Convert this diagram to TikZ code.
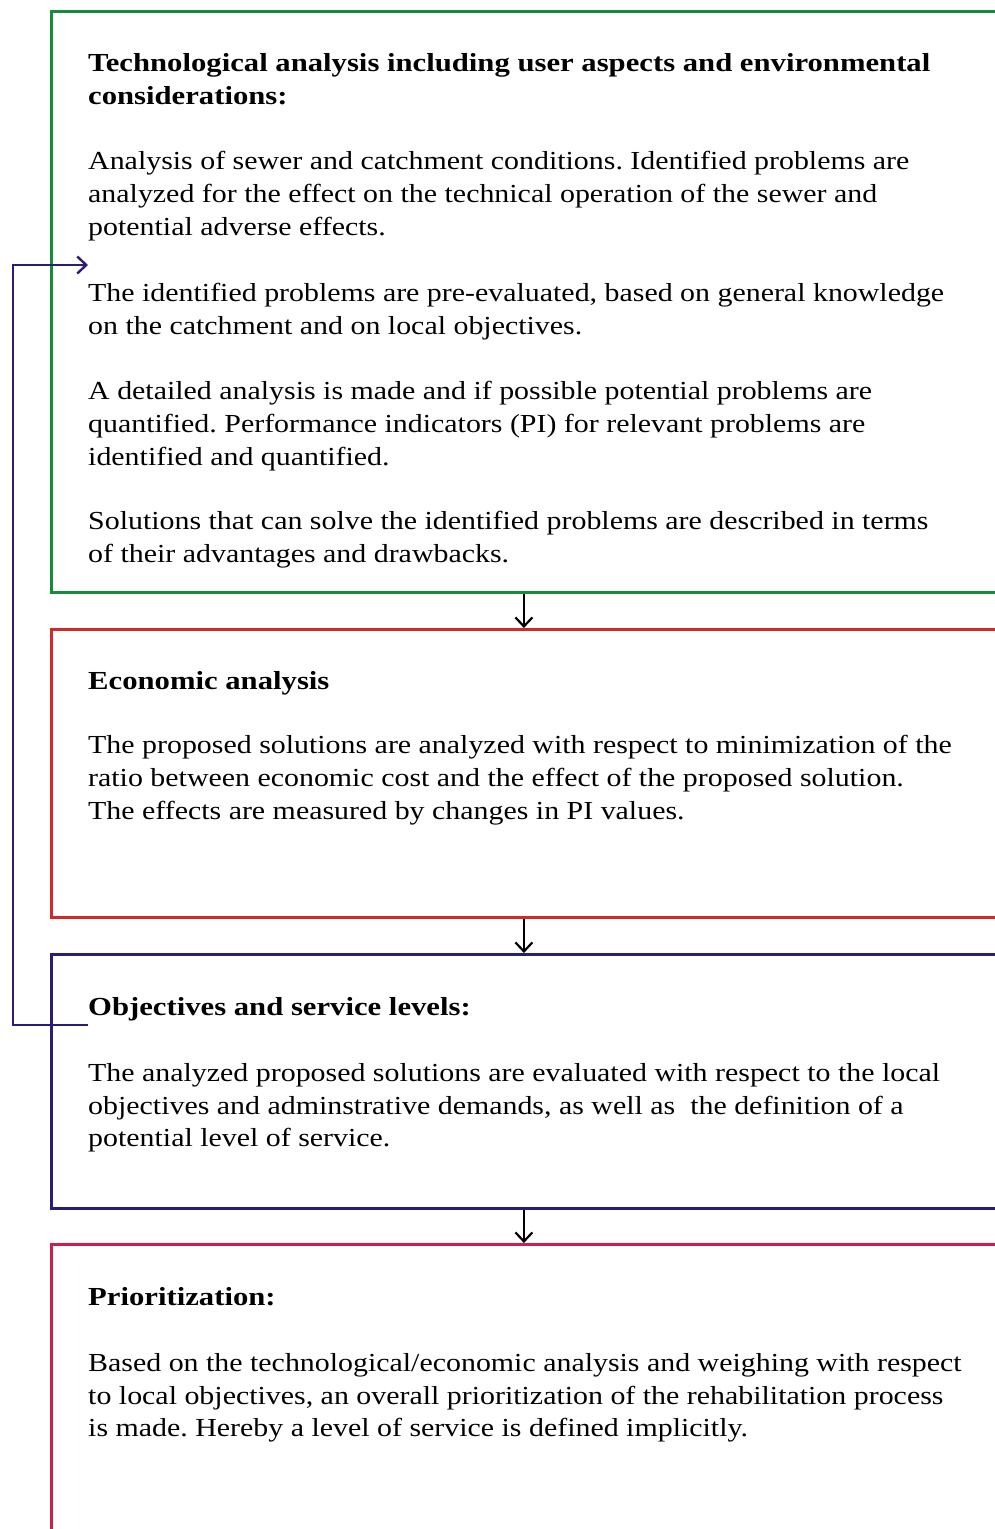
\documentclass[tikz,border=0pt]{standalone}
\usepackage{fontspec}
\setmainfont{Liberation Serif}[FakeStretch=1.15, BoldFeatures={FakeStretch=1.18}]
\usetikzlibrary{arrows.meta}
\definecolor{techgreen}{RGB}{20,140,60}
\definecolor{econred}{RGB}{210,40,40}
\definecolor{objblue}{RGB}{40,30,120}
\definecolor{priocrimson}{RGB}{205,30,80}
\frenchspacing
\begin{document}
\begin{tikzpicture}[x=1pt,y=-1pt,
  stage/.style={draw, line width=2.8pt, minimum width=945pt, anchor=north west, inner sep=0pt},
  txt/.style={anchor=north west, inner sep=0pt, align=left, font=\fontsize{26}{32.8}\selectfont},
  head/.style={txt, font=\fontsize{26}{32.8}\selectfont\bfseries},
  flow/.style={draw=black, line width=2.2pt, -{Straight Barb[length=9pt,width=17pt]}},
  loop/.style={draw=objblue, line width=2.4pt, -{Straight Barb[length=9pt,width=17pt]}}]
\useasboundingbox (0,0) rectangle (994,1529);

% stage boxes
\node[stage, draw=techgreen, minimum height=581pt] (b1) at (50,10) {};
\node[stage, draw=econred, minimum height=288pt] (b2) at (50,628) {};
\node[stage, draw=objblue, minimum height=254pt] (b3) at (50,953) {};
\node[stage, draw=priocrimson, minimum height=300pt] (b4) at (50,1243) {};

% technological analysis
\node[head] (t1) at (88,53) {Technological analysis including user aspects and environmental\\considerations:};
\node[txt] (t2) at (88,151) {Analysis of sewer and catchment conditions. Identified problems are\\analyzed for the effect on the technical operation of the sewer and\\potential adverse effects.};
\node[txt] (t3) at (88,283) {The identified problems are pre-evaluated, based on general knowledge\\on the catchment and on local objectives.};
\node[txt] (t4) at (88,381) {A detailed analysis is made and if possible potential problems are\\quantified. Performance indicators (PI) for relevant problems are\\identified and quantified.};
\node[txt] (t5) at (88,511) {Solutions that can solve the identified problems are described in terms\\of their advantages and drawbacks.};

% economic analysis
\node[head] (e1) at (88,671) {Economic analysis};
\node[txt] (e2) at (88,735) {The proposed solutions are analyzed with respect to minimization of the\\ratio between economic cost and the effect of the proposed solution.\\The effects are measured by changes in PI values.};

% objectives
\node[head] (o1) at (88,997) {Objectives and service levels:};
\node[txt] (o2) at (88,1063) {The analyzed proposed solutions are evaluated with respect to the local\\objectives and adminstrative demands, as well as\ \ the definition of a\\potential level of service.};

% prioritization
\node[head] (p1) at (88,1287) {Prioritization:};
\node[txt] (p2) at (88,1353) {Based on the technological/economic analysis and weighing with respect\\to local objectives, an overall prioritization of the rehabilitation process\\is made. Hereby a level of service is defined implicitly.};

% flow between stages
\draw[flow] (b1.south) -- (b2.north);
\draw[flow] (b2.south) -- (b3.north);
\draw[flow] (b3.south) -- (b4.north);

% feedback loop
\coordinate (fbstart) at (88,1025);
\coordinate (fbturn) at (13,1025);
\coordinate (fbend) at (88,265);
\draw[loop] (fbstart) -- (fbturn) |- (fbend);
\end{tikzpicture}
\end{document}
